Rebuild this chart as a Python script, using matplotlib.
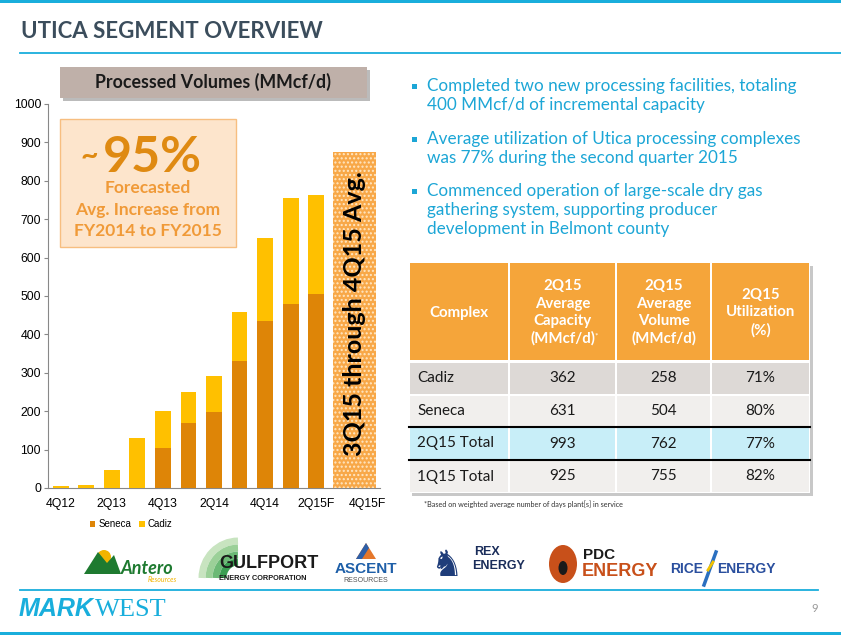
import numpy as np
import matplotlib.pyplot as plt
from matplotlib.patches import Rectangle, Polygon, Circle, Ellipse, Arc

# ---- datos del grafico ----
quarters = ['4Q12', '1Q13', '2Q13', '3Q13', '4Q13', '1Q14', '2Q14',
            '3Q14', '4Q14', '1Q15', '2Q15F', '3Q15F', '4Q15F']
seneca = [0, 0, 0, 0, 103, 170, 198, 330, 435, 479, 504, 0, 0]
cadiz = [5, 8, 46, 130, 97, 80, 94, 129, 217, 276, 258, 0, 0]
forecast_avg = 874          # 3Q15 - 4Q15 promedio
forecast_idx = [11, 12]

# ---- tabla ----
table_header = ['Complex', '2Q15\nAverage\nCapacity\n(MMcf/d)',
                '2Q15\nAverage\nVolume\n(MMcf/d)', '2Q15\nUtilization\n(%)']
table_names = ['Cadiz', 'Seneca', '2Q15 Total', '1Q15 Total']
table_capacity = [362, 631, 993, 925]
table_volume = [258, 504, 762, 755]
table_util = [71, 80, 77, 82]

bullets = ['Completed two new processing facilities, totaling\n400 MMcf/d of incremental capacity',
           'Average utilization of Utica processing complexes\nwas 77% during the second quarter 2015',
           'Commenced operation of large-scale dry gas\ngathering system, supporting producer\ndevelopment in Belmont county']

C_SEN = '#DE8507'
C_CAD = '#FFC000'
CYAN = '#19AEDC'
TXT_CYAN = '#1CA6D6'

W, H = 841, 635
fig = plt.figure(figsize=(W / 100, H / 100), dpi=100)
fig.patch.set_facecolor('white')

# capa de fondo en pixeles
bg = fig.add_axes([0, 0, 1, 1], zorder=0)
bg.set_xlim(0, W)
bg.set_ylim(H, 0)
bg.axis('off')

bg.add_patch(Rectangle((0, 0), W, 3, color=CYAN, lw=0))
bg.add_patch(Rectangle((0, H - 3), W, 3, color=CYAN, lw=0))
bg.text(21, 31, 'UTICA SEGMENT OVERVIEW', fontsize=16, fontweight='bold',
        color='#3B4D5C', family='Lato', va='center')
bg.plot([20, W], [53, 53], color=CYAN, lw=1.3)

# caja "Processed Volumes"
bg.add_patch(Rectangle((63, 70), 307, 31, color='#BBBBBB', lw=0))
bg.add_patch(Rectangle((60, 67), 307, 31, color='#BFB0A9', lw=0))
bg.text(213, 82, 'Processed Volumes (MMcf/d)', fontsize=12.8, fontweight='bold',
        color='#1A1A1A', family='Lato', ha='center', va='center')

# viñetas
ys = [99, 152, 204]
for y0, b in zip(ys, bullets):
    bg.add_patch(Rectangle((412, y0 - 15), 5, 5, color=TXT_CYAN, lw=0))
    bg.text(427, y0 - 21, b, fontsize=12.3, color=TXT_CYAN, family='Lato',
            va='top', linespacing=1.22)

# tabla
col_x = [409, 509, 616, 711, 810]
row_y = [263, 362, 395, 427, 460, 493]
row_colors = ['#DDD9D6', '#F1EFED', '#C8EEF8', '#F1EFED']
bg.add_patch(Rectangle((412, 266), 401, 230, color='#C8C8C8', lw=0))
bg.add_patch(Rectangle((409, 263), 401, 230, color='white', lw=0))
for j in range(4):
    bg.add_patch(Rectangle((col_x[j] + 1, row_y[0]), col_x[j + 1] - col_x[j] - 2,
                           row_y[1] - row_y[0] - 2, color='#F5A53A', lw=0))
    bg.text((col_x[j] + col_x[j + 1]) / 2, (row_y[0] + row_y[1]) / 2, table_header[j],
            fontsize=10.8, fontweight='bold', color='white', family='Lato',
            ha='center', va='center', linespacing=1.3)
bg.text(594, 336, '*', fontsize=6, color='white', family='Lato', va='center')
for i, name in enumerate(table_names):
    y0, y1 = row_y[i + 1], row_y[i + 2]
    vals = [name, str(table_capacity[i]), str(table_volume[i]), '%d%%' % table_util[i]]
    for j in range(4):
        bg.add_patch(Rectangle((col_x[j] + 1, y0 + 1), col_x[j + 1] - col_x[j] - 2,
                               y1 - y0 - 2, color=row_colors[i], lw=0))
        if j == 0:
            bg.text(col_x[0] + 8, (y0 + y1) / 2, vals[j], fontsize=11, family='Lato',
                    color='#1A1A1A', va='center')
        else:
            bg.text((col_x[j] + col_x[j + 1]) / 2, (y0 + y1) / 2, vals[j], fontsize=11,
                    family='Lato', color='#1A1A1A', va='center', ha='center')
bg.plot([409, 810], [427, 427], color='black', lw=1.5)
bg.plot([409, 810], [460, 460], color='black', lw=1.5)
bg.text(424, 504, '*Based on weighted average number of days plant[s] in service',
        fontsize=5.2, color='#333333', family='Lato', va='center')

# logos (aprox. con texto y formas)
bg.add_patch(Circle((104, 557), 7, color='#F2B400', lw=0))
bg.add_patch(Polygon([[84, 574], [98, 552], [107, 563], [114, 555], [121, 574]],
                     color='#1E7A30', lw=0))
bg.text(121, 568, 'Antero', fontsize=13, fontweight='bold', fontstyle='italic',
        color='#1E7A30', family='Lato', va='center')
bg.text(148, 580, 'Resources', fontsize=5, fontstyle='italic', color='#F2B400',
        family='Lato', va='center')
for k, c in enumerate(['#C8E4C0', '#9BD098', '#6BB975', '#3A9E52']):
    bg.add_patch(Arc((238, 578), 72 - 14 * k, 74 - 14 * k, theta1=180, theta2=270,
                     color=c, lw=5))
bg.text(219, 563, 'GULFPORT', fontsize=13, fontweight='bold', color='#1A1A1A',
        family='Liberation Sans', va='center')
bg.text(219, 578, 'ENERGY CORPORATION', fontsize=5.3, fontweight='bold',
        color='#1A1A1A', family='Liberation Sans', va='center')
bg.add_patch(Polygon([[356, 559], [366, 543], [376, 559]], color='#E5772B', lw=0))
bg.add_patch(Polygon([[356, 559], [366, 543], [369, 548], [362, 559]], color='#2E5FA8', lw=0))
bg.text(366, 569, 'ASCENT', fontsize=11, fontweight='bold', color='#1E5FA8',
        family='Liberation Sans', va='center', ha='center')
bg.text(366, 581, 'RESOURCES', fontsize=5, color='#555555',
        family='Liberation Sans', va='center', ha='center')
bg.text(446, 566, '\u265E', fontsize=26, color='#1F3D7A', ha='center', va='center',
        family='DejaVu Sans')
bg.text(474, 552, 'REX', fontsize=9, fontweight='bold', color='#1A2D5A',
        family='Liberation Sans', va='center')
bg.text(472, 566, 'ENERGY', fontsize=9, fontweight='bold', color='#1A2D5A',
        family='Liberation Sans', va='center')
bg.add_patch(Ellipse((563, 564), 28, 38, color='#C8501A', lw=0))
bg.add_patch(Ellipse((563, 568), 9, 14, color='#1A1A1A', lw=0))
bg.text(583, 555, 'PDC', fontsize=11, fontweight='bold', color='#1A1A1A',
        family='Liberation Sans', va='center')
bg.text(582, 572, 'ENERGY', fontsize=13, fontweight='bold', color='#C8501A',
        family='Liberation Sans', va='center')
bg.text(670, 569, 'RICE', fontsize=10, fontweight='bold', color='#2A4F9E',
        family='Liberation Sans', va='center')
bg.plot([704, 716], [585, 552], color='#2A6FC0', lw=2.5)
bg.plot([708, 713], [570, 562], color='#F2C200', lw=2)
bg.text(717, 569, 'ENERGY', fontsize=10, fontweight='bold', color='#2A4F9E',
        family='Liberation Sans', va='center')

bg.plot([20, 818], [590, 590], color=CYAN, lw=1.3)
bg.text(19, 609, 'MARK', fontsize=18, fontweight='bold', fontstyle='italic',
        color=CYAN, family='Liberation Sans', va='center')
bg.text(95, 610, 'WEST', fontsize=19, color=CYAN, family='Liberation Serif',
        va='center')
bg.text(818, 609, '9', fontsize=8, color='#999999', family='Lato', va='center',
        ha='right')

# ---- grafico de barras ----
ax = fig.add_axes([48 / W, (H - 488) / H, 332 / W, 384 / H], zorder=2)
ax.patch.set_alpha(0)
x = np.arange(len(quarters))
ax.bar(x, seneca, width=0.62, color=C_SEN, label='Seneca', zorder=3)
ax.bar(x, cadiz, width=0.62, bottom=seneca, color=C_CAD, label='Cadiz', zorder=3)

xf = np.mean(forecast_idx)
ax.bar(xf, forecast_avg, width=1.7, facecolor='#F8A848', edgecolor='#FFE7C4',
       hatch='....', lw=0, zorder=3)
ax.text(xf, forecast_avg * 0.52, '3Q15 through 4Q15 Avg.', rotation=90,
        fontsize=18, fontweight='bold', family='Lato', color='black',
        ha='center', va='center', zorder=4)

ax.set_xlim(-0.5, len(quarters) - 0.5)
ax.set_ylim(0, 1000)
ax.set_yticks(np.arange(0, 1001, 100))
ax.set_xticks(x[::2])
ax.set_xticklabels(quarters[::2])
for lab in ax.get_xticklabels() + ax.get_yticklabels():
    lab.set_family('Liberation Sans')
    lab.set_fontsize(8.8)
ax.tick_params(axis='x', length=0, pad=7)
ax.tick_params(axis='y', length=3, color='#888888', pad=2)
for s in ['top', 'right']:
    ax.spines[s].set_visible(False)
for s in ['left', 'bottom']:
    ax.spines[s].set_color('#888888')

leg = ax.legend(loc='center', bbox_to_anchor=(0.25, -0.094), ncol=2,
                frameon=False, handlelength=0.6, handleheight=0.6,
                handletextpad=0.3, columnspacing=0.8,
                prop={'family': 'Liberation Sans', 'size': 7})

# caja "~95%"
ax.add_patch(Rectangle((0.035, 0.628), 0.53, 0.333, transform=ax.transAxes,
                       facecolor='#FDE5CC', edgecolor='#F7BE80', lw=1, zorder=5))
ax.text(0.125, 0.865, '~', transform=ax.transAxes, fontsize=22, fontweight='bold',
        color='#DF8A12', family='Lato', ha='center', va='center', zorder=6)
ax.text(0.315, 0.86, '95%', transform=ax.transAxes, fontsize=36, fontweight='bold',
        color='#DF8A12', family='Lato', ha='center', va='center', zorder=6)
ax.text(0.30, 0.725, 'Forecasted\nAvg. Increase from\nFY2014 to FY2015',
        transform=ax.transAxes, fontsize=12.5, fontweight='bold', color='#F09A38',
        family='Lato', ha='center', va='center', linespacing=1.45, zorder=6)

fig.savefig('out.png', dpi=100, facecolor='white')
